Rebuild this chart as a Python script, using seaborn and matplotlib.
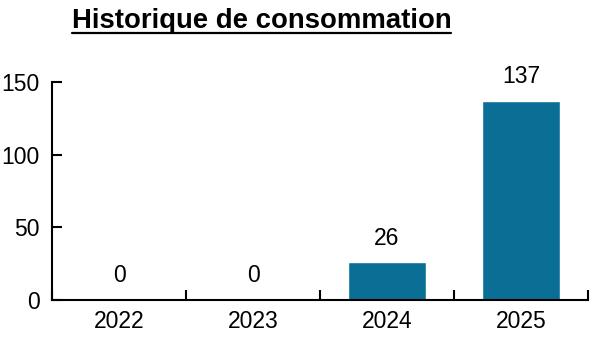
import matplotlib
matplotlib.use("Agg")
import matplotlib.pyplot as plt
import seaborn as sns
import pandas as pd
from matplotlib.lines import Line2D

years = ["2022", "2023", "2024", "2025"]
values = [0, 0, 26, 137]
title = "Historique de consommation"
yticks = [0, 50, 100, 150]

sns.set_style("white")
plt.rcParams['font.family'] = ['Liberation Sans', 'DejaVu Sans']

df = pd.DataFrame({"year": years, "value": values})

fig = plt.figure(figsize=(5.91, 3.43), dpi=100)
ax = fig.add_axes([52/591, 1-300/343, (588-52)/591, (300-82)/343])

sns.barplot(data=df, x="year", y="value", color="#0a6e95", width=0.58,
            saturation=1, ax=ax, errorbar=None)

ax.set_ylim(0, 150)
ax.set_xlim(-0.5, 3.5)
ax.set_yticks(yticks)
ax.set_yticklabels([str(t) for t in yticks], fontsize=16.5, color="black")
ax.set_xlabel("")
ax.set_ylabel("")
for lbl in ax.get_xticklabels():
    lbl.set_color("black")
    lbl.set_fontsize(16.5)
ax.tick_params(axis="x", which="major", bottom=True, length=0, pad=7)
ax.set_xticks([-0.5, 0.5, 1.5, 2.5, 3.5], minor=True)
ax.tick_params(axis="x", which="minor", bottom=True, direction="in", length=7, width=1.5, color="black")
ax.tick_params(axis="y", which="major", left=True, direction="in", length=7, width=1.5, color="black", pad=9)

for s in ["top", "right"]:
    ax.spines[s].set_visible(False)
for s in ["left", "bottom"]:
    ax.spines[s].set_color("black")
    ax.spines[s].set_linewidth(1.5)

for c in ax.containers:
    ax.bar_label(c, labels=[str(v) for v in values], padding=9, fontsize=16.5, color="black")

t = fig.text(0.5 * (72 + 451) / 591, 1 - 21/343, title, ha="center", va="center",
             fontsize=19.8, fontweight="bold", color="black")
fig.canvas.draw()
bb = t.get_window_extent().transformed(fig.transFigure.inverted())
uy = 1 - 33/343
fig.add_artist(Line2D([bb.x0, bb.x1], [uy, uy], color="black", linewidth=1.6,
                      transform=fig.transFigure))

fig.savefig("out.png", dpi=100)
